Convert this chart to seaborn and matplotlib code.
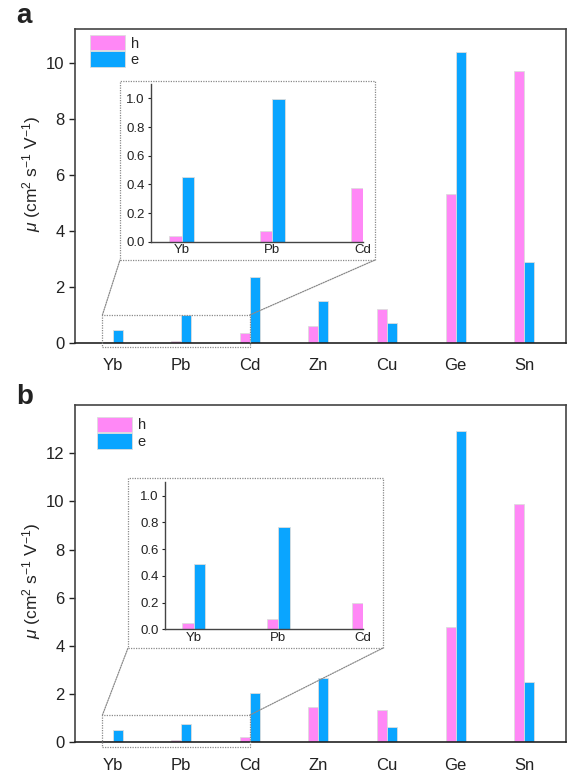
import matplotlib
matplotlib.use('Agg')
import matplotlib.pyplot as plt
import seaborn as sns
import pandas as pd
import numpy as np
from matplotlib.patches import Rectangle, Patch, ConnectionPatch

# data
metals = ['Yb', 'Pb', 'Cd', 'Zn', 'Cu', 'Ge', 'Sn']
a_h = [0.04, 0.077, 0.37, 0.61, 1.21, 5.30, 9.70]
a_e = [0.45, 0.99, 2.37, 1.51, 0.70, 10.38, 2.88]
b_h = [0.05, 0.077, 0.20, 1.47, 1.34, 4.78, 9.91]
b_e = [0.49, 0.77, 2.05, 2.67, 0.62, 12.93, 2.49]

inset_metals = ['Yb', 'Pb', 'Cd']
a_inset_h = [0.04, 0.077, 0.377]
a_inset_e = [0.453, 0.993, np.nan]
b_inset_h = [0.045, 0.077, 0.195]
b_inset_e = [0.487, 0.768, np.nan]

carriers = ['h', 'e']
colors = {'h': '#FF88F6', 'e': '#0AA5FF'}

sns.set_style('white')
plt.rcParams['font.family'] = ['Liberation Sans', 'DejaVu Sans']
plt.rcParams['mathtext.fontset'] = 'custom'
plt.rcParams['mathtext.rm'] = 'Liberation Sans'
plt.rcParams['mathtext.it'] = 'Liberation Sans:italic'

W, H = 581, 784
fig = plt.figure(figsize=(5.81, 7.84), dpi=100)


def px_box(l, t, r, b):
    # pixel box -> figure fraction [left, bottom, width, height]
    return [l / W, 1 - b / H, (r - l) / W, (b - t) / H]


def long_df(names, h, e):
    df = pd.DataFrame({'metal': list(names) * 2,
                       'carrier': ['h'] * len(names) + ['e'] * len(names),
                       'mu': list(h) + list(e)})
    return df.dropna()


def panel(main_box, ymax, yticks, h, e, inset_box, ins_h, ins_e,
          inset_frame, rect_bottom, rect_top, leg_anchor, label_y, letter, letter_pos):
    ax = fig.add_axes(px_box(*main_box))
    sns.barplot(data=long_df(metals, h, e), x='metal', y='mu', hue='carrier',
                order=metals, hue_order=carriers, palette=colors, width=0.292,
                saturation=1, edgecolor='#dddddd', linewidth=0.6, errorbar=None,
                ax=ax, legend=False)
    ax.set_xlim(-0.55, 6.61)
    ax.set_ylim(0, ymax)
    ax.set_yticks(yticks)
    ax.set_xlabel('')
    ax.set_ylabel(r'$\mu$ (cm$^2$ s$^{-1}$ V$^{-1}$)', fontsize=12.5, color='#222222')
    ax.yaxis.set_label_coords(-0.066, label_y)
    ax.tick_params(axis='y', direction='out', length=4, width=1, labelsize=12,
                   colors='#222222', left=True)
    ax.tick_params(axis='x', length=0, pad=11, labelsize=12, colors='#222222')
    for s in ax.spines.values():
        s.set_visible(True)
        s.set_color('#444444')
        s.set_linewidth(1.2)
    ax.spines['bottom'].set_color('#222222')

    handles = [Patch(facecolor=colors[c], edgecolor='#dddddd', linewidth=0.6, label=c)
               for c in carriers]
    ax.legend(handles=handles, loc='upper left', bbox_to_anchor=leg_anchor,
              frameon=False, fontsize=10.5, handlelength=2.4, handleheight=1.25,
              labelspacing=0.05, handletextpad=0.4, borderpad=0, borderaxespad=0)

    # inset
    ins = fig.add_axes(px_box(*inset_box))
    sns.barplot(data=long_df(inset_metals, ins_h, ins_e), x='metal', y='mu',
                hue='carrier', order=inset_metals, hue_order=carriers,
                palette=colors, width=0.27, saturation=1, edgecolor='#dddddd',
                linewidth=0.6, errorbar=None, ax=ins, legend=False)
    ins.set_xlim(-0.34, 2.0)
    ins.set_ylim(0, 1.1)
    ins.set_yticks([0.0, 0.2, 0.4, 0.6, 0.8, 1.0])
    ins.set_yticklabels(['0.0', '0.2', '0.4', '0.6', '0.8', '1.0'])
    ins.set_xlabel('')
    ins.set_ylabel('')
    ins.set_facecolor('none')
    ins.tick_params(axis='y', direction='out', length=2.5, width=0.8, labelsize=9.5,
                    colors='#222222', left=True, pad=2)
    ins.tick_params(axis='x', length=0, pad=2, labelsize=9.5, colors='#222222')
    sns.despine(ax=ins)
    for s in ['left', 'bottom']:
        ins.spines[s].set_color('#444444')
        ins.spines[s].set_linewidth(1.0)

    # dotted frame around inset and zoom rectangle
    dot = dict(edgecolor='#8a8a8a', linestyle=(0, (1, 1)), linewidth=0.9, facecolor='none')
    l, t, r, b = inset_frame
    fig.add_artist(Rectangle((l / W, 1 - b / H), (r - l) / W, (b - t) / H,
                             transform=fig.transFigure, **dot))
    ax.add_patch(Rectangle((-0.15, rect_bottom), 2.15, rect_top - rect_bottom,
                           transform=ax.transData, clip_on=False, zorder=5, **dot))
    for xa, xb in [(-0.15, l), (2.0, r)]:
        cp = ConnectionPatch(xyA=(xa, rect_top), coordsA=ax.transData,
                             xyB=(xb / W, 1 - b / H), coordsB=fig.transFigure,
                             color='#8a8a8a', linestyle=(0, (1, 1)), linewidth=0.9)
        fig.add_artist(cp)

    fig.text(letter_pos[0] / W, 1 - letter_pos[1] / H, letter, fontsize=20,
             fontweight='bold', color='#222222', va='bottom', ha='left')
    return ax


panel((75, 29, 566, 343), 11.2, [0, 2, 4, 6, 8, 10], a_h, a_e,
      (150.7, 84, 363, 241.7), a_inset_h, a_inset_e,
      (120, 81, 375, 260), -0.14, 1.0, (0.0305, 0.981), 0.538, 'a', (16, 29))

panel((75, 405, 566, 742.3), 14.0, [0, 2, 4, 6, 8, 10, 12], b_h, b_e,
      (165, 482.3, 363, 629.3), b_inset_h, b_inset_e,
      (128, 478, 383, 648), -0.21, 1.13, (0.0448, 0.965), 0.48, 'b', (16, 410))

fig.savefig('out.png', dpi=100)
